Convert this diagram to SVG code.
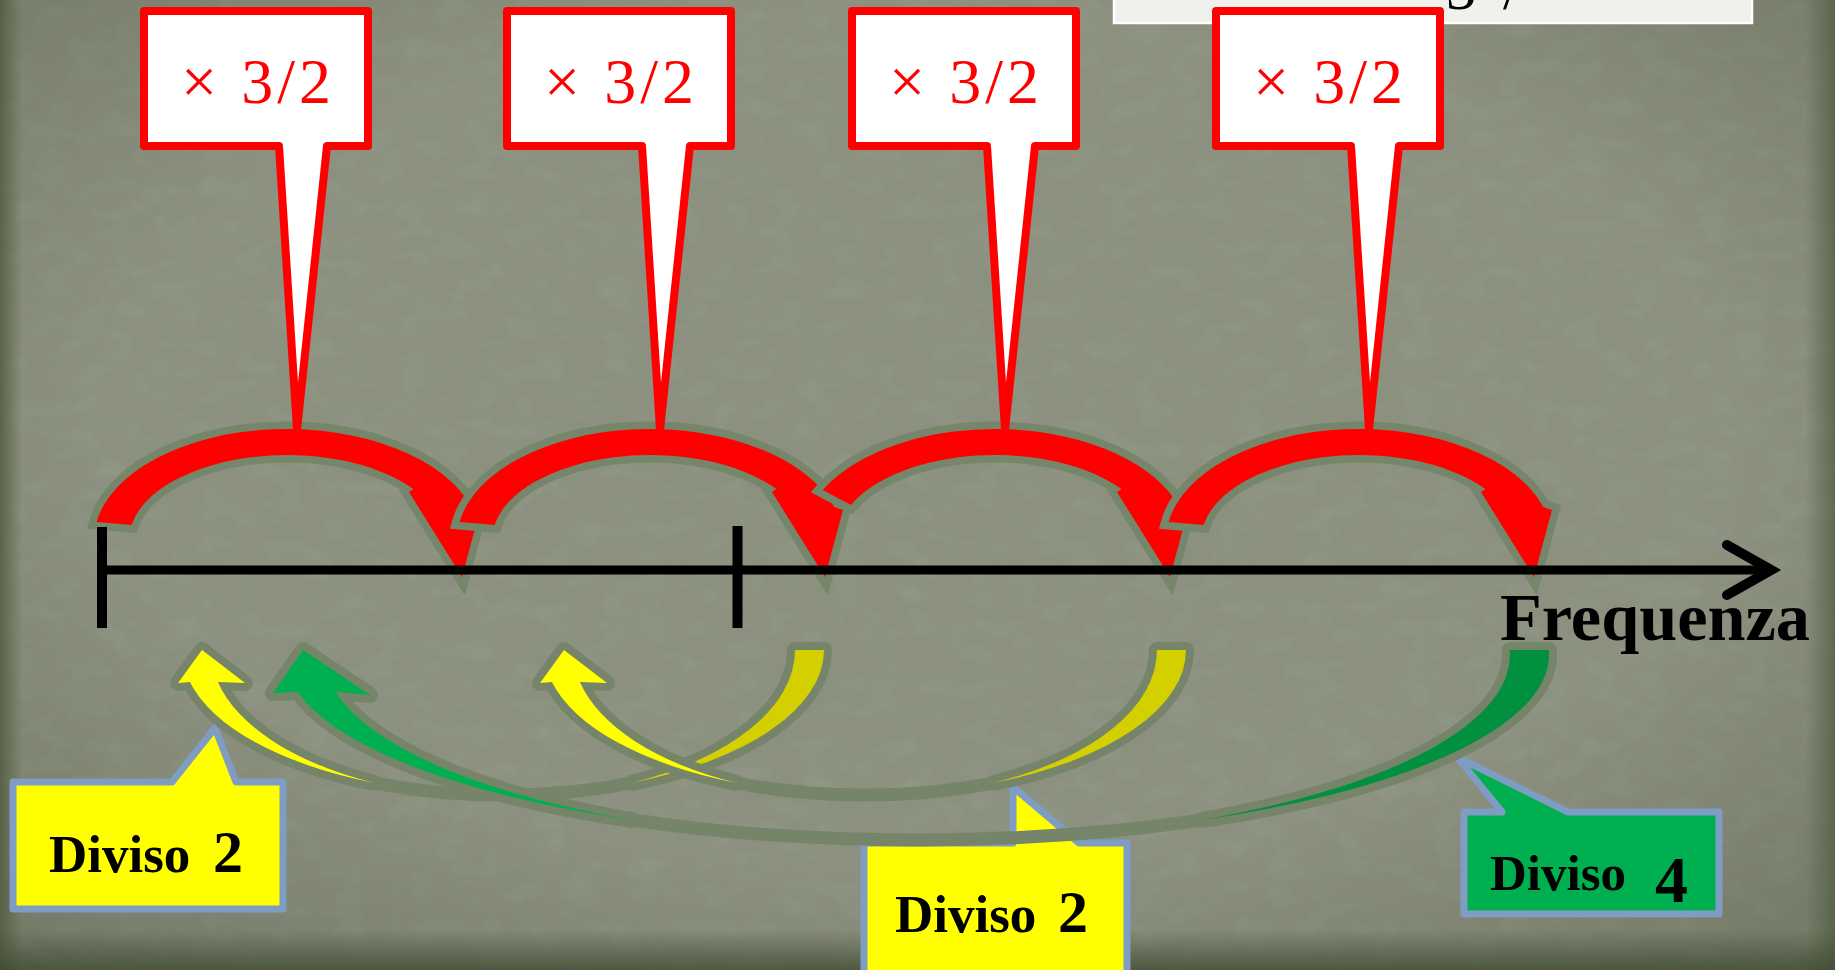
<svg xmlns="http://www.w3.org/2000/svg" width="1835" height="970" viewBox="0 0 1835 970">
<style>
.rbox{fill:#ffffff;stroke:#ff0000;stroke-width:8;stroke-linejoin:round}
.rtxt{font-family:"Liberation Serif",serif;font-size:64px;fill:#ff0000}
.arc{fill:#ff0000;stroke:#76866a;stroke-width:15;stroke-linejoin:miter;stroke-miterlimit:3;paint-order:stroke}
.glow{fill:none;stroke:#76856a;stroke-width:13}
.piece{stroke:#76856a;stroke-width:16;stroke-linejoin:round;paint-order:stroke}
.lbox{stroke:#7f9cc3;stroke-width:7;stroke-linejoin:round}
.ltxt{font-family:"Liberation Serif",serif;font-weight:bold;fill:#000000}
.axis{stroke:#000000;fill:none}
</style>
<defs>
<radialGradient id="vig" cx="50%" cy="45%" r="75%">
<stop offset="0.6" stop-color="#2f3a22" stop-opacity="0"/>
<stop offset="1" stop-color="#2f3a22" stop-opacity="0.3"/>
</radialGradient>
<linearGradient id="leftEdge" x1="0" y1="0" x2="1" y2="0">
<stop offset="0" stop-color="#4f5a3e" stop-opacity="0.8"/>
<stop offset="1" stop-color="#4f5a3e" stop-opacity="0"/>
</linearGradient>
<linearGradient id="rightEdge" x1="1" y1="0" x2="0" y2="0">
<stop offset="0" stop-color="#4f5a3e" stop-opacity="0.7"/>
<stop offset="1" stop-color="#4f5a3e" stop-opacity="0"/>
</linearGradient>
<linearGradient id="botEdge" x1="0" y1="1" x2="0" y2="0">
<stop offset="0" stop-color="#3e4830" stop-opacity="0.75"/>
<stop offset="1" stop-color="#3e4830" stop-opacity="0"/>
</linearGradient>
<filter id="tex" x="0" y="0" width="100%" height="100%">
<feTurbulence type="fractalNoise" baseFrequency="0.03 0.05" numOctaves="4" seed="7" result="n"/>
<feColorMatrix in="n" type="matrix" values="0 0 0 0 0.32  0 0 0 0 0.35  0 0 0 0 0.27  0 0 0 1.6 -0.7"/>
</filter>
<filter id="blur" x="-5%" y="-50%" width="110%" height="200%">
<feGaussianBlur stdDeviation="2.5"/>
</filter>
<path id="rcall" d="M -153,11 H 71 V 146 H 30 L 0,430 L -18,146 H -153 Z"/>
<path id="arcShape" d="M -190.4,522 A 193 111 0 0 1 184.3,507 L 193,510 L 175,577 L 122,492 L 126.4,489 A 158 85 0 0 0 -155.5,525 Z"/>
</defs>

<!-- background -->
<rect x="0" y="0" width="1835" height="970" fill="#8c917f"/>
<rect x="0" y="0" width="1835" height="970" filter="url(#tex)" opacity="0.55"/>
<rect x="0" y="0" width="1835" height="970" fill="url(#vig)"/>
<rect x="0" y="0" width="22" height="970" fill="url(#leftEdge)"/>
<rect x="1805" y="0" width="30" height="970" fill="url(#rightEdge)"/>
<rect x="0" y="930" width="1835" height="40" fill="url(#botEdge)"/>

<!-- top-right text box (cut off at top) -->
<g id="top-box">
<rect x="1114" y="-3" width="638" height="26" fill="#eff1ec" stroke="#ffffff" stroke-width="2.5"/>
<text x="1446" y="9" font-family="Liberation Serif, serif" font-size="60" fill="#000000">3<tspan x="1503">/</tspan></text>
</g>

<!-- lower callouts -->
<g id="callout-diviso2-a">
<path class="lbox" fill="#ffff00" d="M 13,782 H 172 L 215,728 L 236,782 H 283 V 909 H 13 Z"/>
<text class="ltxt" x="49" y="872" font-size="53">Diviso<tspan x="213" font-size="60">2</tspan></text>
</g>
<g id="callout-diviso2-b">
<path class="lbox" fill="#ffff00" d="M 864,843 H 1013 L 1013,787 L 1079,843 H 1127 V 985 H 864 Z"/>
<text class="ltxt" x="895" y="932" font-size="53">Diviso<tspan x="1058" font-size="60">2</tspan></text>
</g>
<g id="callout-diviso4">
<path class="lbox" fill="#00b050" d="M 1464,812 H 1502 L 1457,757 L 1568,812 H 1719 V 914 H 1464 Z"/>
<text class="ltxt" x="1490" y="890" font-size="51">Diviso<tspan x="1655" y="902" font-size="66">4</tspan></text>
</g>

<!-- connectors -->
<g id="connectors">
<!-- yellow curved arrow 1 -->
<g id="arrow-yellow-1">
<path class="glow" d="M 374,782.8 A 321 145 0 0 0 632,782.8"/>
<path class="piece" fill="#d4d000" d="M 824,650 A 321 145 0 0 1 632,782.8 A 292 148 0 0 0 795,650 Z"/>
<path class="piece" fill="#ffff00" d="M 189.9,682 L 178,683 L 202,650 L 245,683 L 217.9,682 A 292 148 0 0 0 374,782.8 A 321 145 0 0 1 189.9,682 Z"/>
</g>
<!-- yellow curved arrow 2 -->
<g id="arrow-yellow-2" transform="translate(362,0)">
<path class="glow" d="M 374,782.8 A 321 145 0 0 0 632,782.8"/>
<path class="piece" fill="#d4d000" d="M 824,650 A 321 145 0 0 1 632,782.8 A 292 148 0 0 0 795,650 Z"/>
<path class="piece" fill="#ffff00" d="M 189.9,682 L 178,683 L 202,650 L 245,683 L 217.9,682 A 292 148 0 0 0 374,782.8 A 321 145 0 0 1 189.9,682 Z"/>
</g>
<!-- green curved arrow -->
<g id="arrow-green">
<path class="glow" d="M 632,820 A 632 185 0 0 0 1202,820"/>
<path class="piece" fill="#009040" d="M 1548.8,650 A 632 185 0 0 1 1202,820 A 593 188.3 0 0 0 1509.8,650 Z"/>
<path class="piece" fill="#00b050" d="M 297.8,692 L 273,693 L 303,650 L 370,695 L 335.6,692 A 593 188.3 0 0 0 632,820 A 632 185 0 0 1 297.8,692 Z"/>
</g>

<!-- red arcs (x 3/2 steps) -->
<use href="#arcShape" class="arc" transform="translate(287,0)"/>
<use href="#arcShape" class="arc" transform="translate(650,0)"/>
<path class="arc" transform="translate(995,0)" d="M -172.3,490 A 193 111 0 0 1 184.3,507 L 193,510 L 175,577 L 122,492 L 126.4,489 A 158 85 0 0 0 -144,505 Z"/>
<use href="#arcShape" class="arc" transform="translate(1359,0)"/>

<!-- frequency axis -->
<line x1="100" y1="574" x2="1765" y2="574" stroke="#1a1f14" stroke-width="9" opacity="0.45" filter="url(#blur)"/>
<line class="axis" x1="97" y1="570" x2="1766" y2="570" stroke-width="9"/>
<polyline class="axis" points="1727,545 1771,570 1727,595" stroke-width="10" stroke-linecap="round" stroke-linejoin="miter"/>
<line class="axis" x1="102" y1="527" x2="102" y2="628" stroke-width="10"/>
<line class="axis" x1="737.5" y1="526" x2="737.5" y2="628" stroke-width="10"/>
</g>

<!-- red callouts -->
<g id="callout-x32-1" transform="translate(297,0)">
<use href="#rcall" class="rbox"/>
<text class="rtxt" x="-41" y="103" text-anchor="middle" textLength="150" lengthAdjust="spacing">× 3/2</text>
</g>
<g id="callout-x32-2" transform="translate(660,0)">
<use href="#rcall" class="rbox"/>
<text class="rtxt" x="-41" y="103" text-anchor="middle" textLength="150" lengthAdjust="spacing">× 3/2</text>
</g>
<g id="callout-x32-3" transform="translate(1005,0)">
<use href="#rcall" class="rbox"/>
<text class="rtxt" x="-41" y="103" text-anchor="middle" textLength="150" lengthAdjust="spacing">× 3/2</text>
</g>
<g id="callout-x32-4" transform="translate(1369,0)">
<use href="#rcall" class="rbox"/>
<text class="rtxt" x="-41" y="103" text-anchor="middle" textLength="150" lengthAdjust="spacing">× 3/2</text>
</g>

<g id="label-frequenza">
<text x="1500" y="640" font-family="Liberation Serif, serif" font-weight="bold" font-size="68" fill="#000000" textLength="310" lengthAdjust="spacingAndGlyphs">Frequenza</text>
</g>
</svg>
